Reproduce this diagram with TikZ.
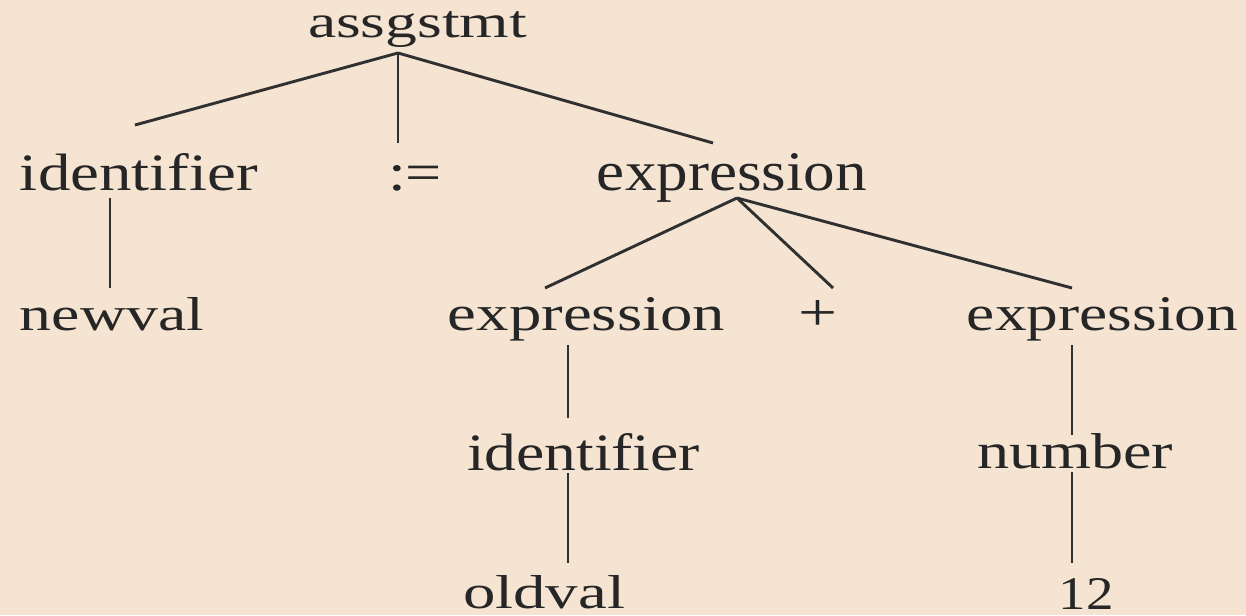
\documentclass[tikz,border=0pt]{standalone}
\usepackage{fontspec}
\setmainfont{Liberation Serif}
\usetikzlibrary{calc}
\definecolor{bg}{HTML}{F5E4D1}
\definecolor{ink}{HTML}{262626}
\definecolor{edge}{HTML}{303030}
\newcommand{\fit}[3]{\resizebox{#1pt}{#2pt}{#3}}
\begin{document}
\begin{tikzpicture}[x=1pt,y=-1pt,
  lbl/.style={inner sep=0pt, anchor=base, text=ink, font=\fontsize{50}{56}\selectfont},
  conn/.style={draw=edge, line width=2.9pt}]
\fill[bg] (0,0) rectangle (1246,615);
\useasboundingbox (0,0) rectangle (1246,615);
\node[lbl] (root) at (417.5,38) {\fit{219}{26}{assgstmt}};
\node[lbl] (id1) at (139,190) {\fit{238}{37}{identifier}};
\node[lbl] (asg) at (415,190) {\fit{54}{25}{:=}};
\node[lbl] (ex1) at (732,190) {\fit{270}{37}{expression}};
\node[lbl] (nv) at (112,330) {\fit{184}{33}{newval}};
\node[lbl] (ex2) at (586.5,330) {\fit{277}{33}{expression}};
\node[lbl] (plus) at (817.5,330) {\fit{39}{30}{+}};
\node[lbl] (ex3) at (1102.5,330) {\fit{271}{33}{expression}};
\node[lbl] (id2) at (583.5,470) {\fit{233}{37}{identifier}};
\node[lbl] (num) at (1075,468) {\fit{196}{35}{number}};
\node[lbl] (ov) at (544,608) {\fit{162}{33}{oldval}};
\node[lbl] (twelve) at (1086,609) {\fit{55}{31}{12}};
% root
\draw[conn] ($(root.base)+(-19.5,15)$) -- ($(id1.base)+(-4,-65)$);
\draw[conn] ($(root.base)+(-19.5,15)$) -- ($(asg.base)+(-17,-47)$);
\draw[conn] ($(root.base)+(-19.5,15)$) -- ($(ex1.base)+(-19,-47)$);
% identifier -> newval
\draw[conn] ($(id1.base)+(-29,8)$) -- ($(nv.base)+(-2,-42)$);
% expression level 1
\draw[conn] ($(ex1.base)+(5,8)$) -- ($(ex2.base)+(-41.5,-42)$);
\draw[conn] ($(ex1.base)+(5,8)$) -- ($(plus.base)+(15.5,-42)$);
\draw[conn] ($(ex1.base)+(5,8)$) -- ($(ex3.base)+(-30.5,-42)$);
% left branch
\draw[conn] ($(ex2.base)+(-18.5,15)$) -- ($(id2.base)+(-15.5,-52)$);
\draw[conn] ($(id2.base)+(-15.5,3)$) -- ($(ov.base)+(24,-45)$);
% right branch
\draw[conn] ($(ex3.base)+(-30.5,15)$) -- ($(num.base)+(-3,-33)$);
\draw[conn] ($(num.base)+(-3,4)$) -- ($(twelve.base)+(-14,-46)$);
\end{tikzpicture}
\end{document}
